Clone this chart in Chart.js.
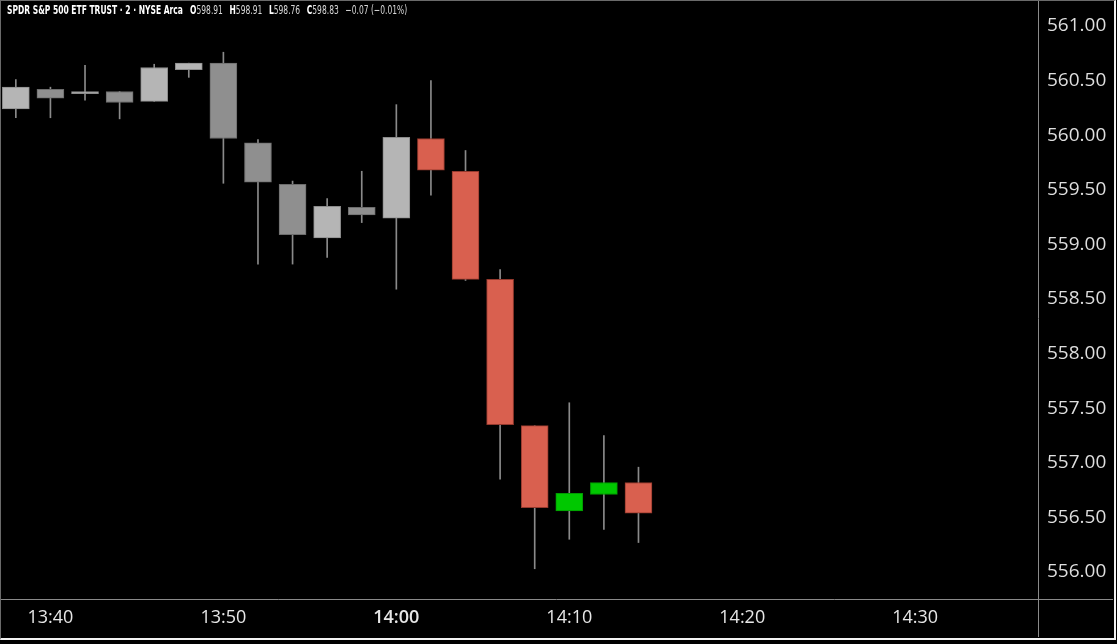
<!DOCTYPE html>
<html>
<head>
<meta charset="utf-8">
<script src="https://cdn.jsdelivr.net/npm/chart.js@4.4.1/dist/chart.umd.min.js"></script>
<style>
    html, body { margin: 0; padding: 0; background: #000; overflow: hidden; }
    #wrap { position: relative; width: 1117px; height: 644px; }
    #frame {
        position: absolute; left: 0; top: 0; width: 1113px; height: 637px;
        border-left: 1px solid #6a6a6a; border-top: 1px solid #6a6a6a;
        border-right: 2px solid #f2f2f2; border-bottom: 2px solid #f2f2f2;
        pointer-events: none;
    }
    #header {
        position: absolute; left: 7px; top: 3px;
        transform: scaleX(0.7); transform-origin: 0 0;
        font-family: "Liberation Sans Narrow", "DejaVu Sans Condensed", "Open Sans", sans-serif;
        font-size: 12px; color: #d8d8d8; white-space: nowrap;
    }
    #header b { color: #fff; }
    #header .v { margin-right: 6px; }
</style>
</head>
<body>
<div id="wrap">
    <canvas id="candleChart" width="1117" height="644"></canvas>
    <div id="header"><b>SPDR S&amp;P 500 ETF TRUST · 2 · NYSE Arca</b>&nbsp;&nbsp;&nbsp;<b>O</b><span class="v">598.91</span> <b>H</b><span class="v">598.91</span> <b>L</b><span class="v">598.76</span> <b>C</b><span class="v">598.83</span> −0.07 (−0.01%)</div>
    <div id="frame"></div>
</div>
<script>
// 2-minute bars
const times  = ["13:38", "13:40", "13:42", "13:44", "13:46", "13:48", "13:50", "13:52", "13:54", "13:56",
                "13:58", "14:00", "14:02", "14:04", "14:06", "14:08", "14:10", "14:12", "14:14"];
const opens  = [560.24, 560.42, 560.38, 560.40, 560.31, 560.60, 560.66, 559.93, 559.55, 559.06,
                559.34, 559.24, 559.97, 559.67, 558.68, 557.34, 556.56, 556.71, 556.82];
const highs  = [560.51, 560.44, 560.64, 560.40, 560.65, 560.66, 560.76, 559.96, 559.58, 559.42,
                559.67, 560.28, 560.50, 559.86, 558.77, 557.34, 557.55, 557.25, 556.96];
const lows   = [560.16, 560.16, 560.32, 560.15, 560.31, 560.53, 559.56, 558.82, 558.82, 558.88,
                559.20, 558.59, 559.45, 558.67, 556.85, 556.03, 556.30, 556.39, 556.27];
const closes = [560.44, 560.34, 560.40, 560.30, 560.62, 560.66, 559.97, 559.57, 559.09, 559.35,
                559.27, 559.98, 559.68, 558.68, 557.35, 556.59, 556.72, 556.82, 556.54];

const timeTicks  = ["13:40", "13:50", "14:00", "14:10", "14:20", "14:30"];
const priceTicks = [556.00, 556.50, 557.00, 557.50, 558.00, 558.50, 559.00, 559.50, 560.00, 560.50, 561.00];

// minutes after 13:00
function toMin(t) {
    const [h, m] = t.split(":").map(Number);
    return (h - 13) * 60 + m;
}
function fromMin(v) {
    const h = 13 + Math.floor(v / 60), m = Math.round(v % 60);
    return h + ":" + String(m).padStart(2, "0");
}

const colorStart = toMin("14:02");   // bars before this are drawn in grey

const bodyColors = [], bodyBorders = [];
times.forEach((t, i) => {
    const up = closes[i] >= opens[i];
    if (toMin(t) < colorStart) {
        bodyColors.push(up ? "#b5b5b5" : "#8f8f8f");
        bodyBorders.push(up ? "#8c8c8c" : "#6c6c6c");
    } else {
        bodyColors.push(up ? "#00c800" : "#d9604f");
        bodyBorders.push(up ? "#009a00" : "#94392d");
    }
});

const bodies = times.map((t, i) => ({ x: toMin(t), y: [opens[i], closes[i]] }));
const wicks  = times.map((t, i) => ({ x: toMin(t), y: [lows[i], highs[i]] }));

const X_MIN = 37.2, X_MAX = 97.1, Y_MIN = 555.753, Y_MAX = 561.22;

const framePlugin = {
    id: "frameLines",
    afterDraw(chart) {
        const { ctx, chartArea } = chart;
        ctx.save();
        ctx.strokeStyle = "#8a8a8a";
        ctx.lineWidth = 1;
        ctx.beginPath();
        ctx.moveTo(chartArea.right + 0.5, 0);
        ctx.lineTo(chartArea.right + 0.5, 637);
        ctx.moveTo(0, chartArea.bottom + 0.5);
        ctx.lineTo(1113, chartArea.bottom + 0.5);
        ctx.stroke();
        ctx.restore();
    }
};

const ctx = document.getElementById("candleChart").getContext("2d");
new Chart(ctx, {
    type: "bar",
    data: {
        datasets: [
            {
                label: "Body",
                data: bodies,
                backgroundColor: bodyColors,
                borderColor: bodyBorders,
                borderWidth: 1,
                borderSkipped: false,
                barThickness: 27,
                grouped: false
            },
            {
                label: "Wick",
                data: wicks,
                backgroundColor: "#8a8a8a",
                borderWidth: 0,
                barThickness: 1,
                grouped: false
            }
        ]
    },
    options: {
        responsive: false,
        animation: false,
        layout: { padding: { left: 2, top: 2, right: 4, bottom: 7 } },
        plugins: {
            legend: { display: false },
            tooltip: { enabled: false }
        },
        scales: {
            x: {
                type: "linear",
                min: X_MIN,
                max: X_MAX,
                bounds: "data",
                offset: false,
                grid: { display: false, drawTicks: false },
                border: { display: false },
                afterBuildTicks: scale => {
                    scale.ticks = timeTicks.map(t => ({ value: toMin(t) }));
                    scale.min = X_MIN;
                    scale.max = X_MAX;
                },
                afterFit: scale => {
                    scale.height = 38;
                    scale.paddingLeft = 0;
                    scale.paddingRight = 0;
                },
                ticks: {
                    color: "#e6e6e6",
                    padding: 8,
                    maxRotation: 0,
                    autoSkip: false,
                    font: c => ({
                        family: "'Open Sans', sans-serif",
                        size: 18,
                        weight: c.tick && c.tick.value % 60 === 0 ? "600" : "normal"
                    }),
                    callback: v => fromMin(v)
                }
            },
            y: {
                type: "linear",
                position: "right",
                min: Y_MIN,
                max: Y_MAX,
                bounds: "data",
                grid: { display: false, drawTicks: false },
                border: { display: false },
                afterBuildTicks: scale => {
                    scale.ticks = priceTicks.map(v => ({ value: v }));
                    scale.min = Y_MIN;
                    scale.max = Y_MAX;
                },
                afterFit: scale => {
                    scale.width = 75;
                    scale.paddingTop = 0;
                    scale.paddingBottom = 0;
                },
                ticks: {
                    color: "#dedede",
                    padding: 9,
                    font: { family: "'Open Sans', sans-serif", size: 19 },
                    callback: v => v.toFixed(2)
                }
            }
        }
    },
    plugins: [framePlugin]
});
</script>
</body>
</html>
